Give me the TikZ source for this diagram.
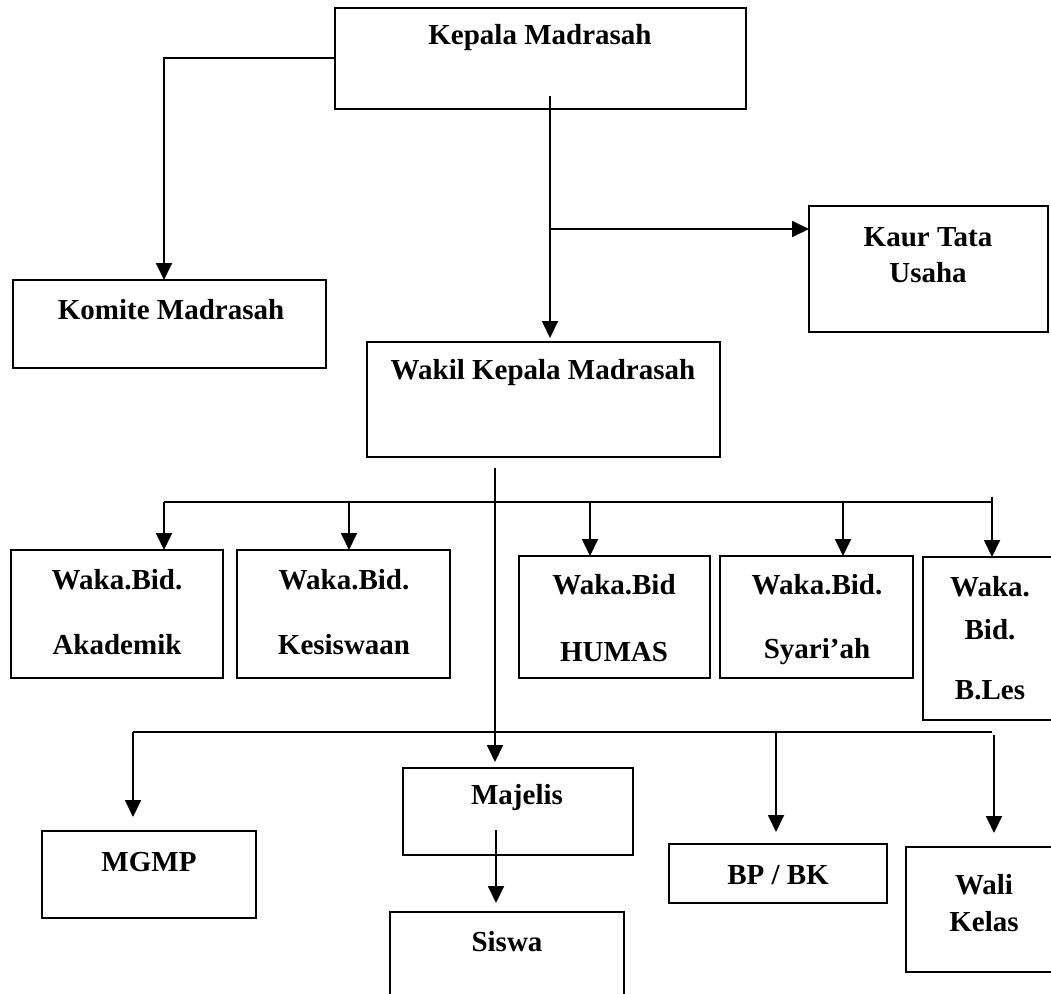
\documentclass[tikz,border=0pt]{standalone}
\usepackage{fontspec}
\setmainfont{Liberation Serif}
\usetikzlibrary{arrows.meta}
\begin{document}
\begin{tikzpicture}[x=1pt,y=-1pt,
  box/.style={draw,line width=1.8pt,inner sep=0pt,outer sep=0pt},
  lbl/.style={font=\fontsize{29}{34}\selectfont\bfseries,inner sep=0pt,anchor=center},
  ln/.style={line width=1.8pt},
  arr/.style={line width=1.8pt,-{Triangle[width=16pt,length=17pt]}}]
\useasboundingbox (0,0) rectangle (1051,993);
\clip (0,0) rectangle (1051,993);
% boxes
\node[box,minimum width=411pt,minimum height=101pt] (kepala) at (540.5,58.5) {};
\node[box,minimum width=313pt,minimum height=88pt] (komite) at (169.5,324) {};
\node[box,minimum width=239pt,minimum height=126pt] (kaur) at (928.5,269) {};
\node[box,minimum width=353pt,minimum height=115pt] (wakil) at (543.5,399.5) {};
\node[box,minimum width=212pt,minimum height=128pt] (akad) at (117,614) {};
\node[box,minimum width=213pt,minimum height=128pt] (kesis) at (343.5,614) {};
\node[box,minimum width=191pt,minimum height=122pt] (humas) at (614.5,617) {};
\node[box,minimum width=193pt,minimum height=122pt] (syariah) at (816.5,617) {};
\node[box,minimum width=147pt,minimum height=163pt] (bles) at (996.5,638.5) {};
\node[box,minimum width=214pt,minimum height=87pt] (mgmp) at (149,874.5) {};
\node[box,minimum width=230pt,minimum height=87pt] (majelis) at (518,811.5) {};
\node[box,minimum width=234pt,minimum height=98pt] (siswa) at (507,961) {};
\node[box,minimum width=218pt,minimum height=59pt] (bpbk) at (778,873.5) {};
\node[box,minimum width=164pt,minimum height=125pt] (wali) at (988,909.5) {};
% labels
\node[lbl] (tkepala) at (540,38) {Kepala Madrasah};
\node[lbl] (tkomite) at (171,310) {Komite Madrasah};
\node[lbl] (tkaur1) at (928,237) {Kaur Tata};
\node[lbl] (tkaur2) at (928,273) {Usaha};
\node[lbl] (twakil) at (543,373) {Wakil Kepala Madrasah};
\node[lbl] (takad1) at (117,580) {Waka.Bid.};
\node[lbl] (takad2) at (117,645) {Akademik};
\node[lbl] (tkesis1) at (344,580) {Waka.Bid.};
\node[lbl] (tkesis2) at (344,645) {Kesiswaan};
\node[lbl] (thumas1) at (614,585) {Waka.Bid};
\node[lbl] (thumas2) at (614,652) {HUMAS};
\node[lbl] (tsyar1) at (817,585) {Waka.Bid.};
\node[lbl] (tsyar2) at (817,652) {Syari’ah};
\node[lbl] (tbles1) at (990,587) {Waka.};
\node[lbl] (tbles2) at (990,630) {Bid.};
\node[lbl] (tbles3) at (990,690) {B.Les};
\node[lbl] (tmgmp) at (149,862) {MGMP};
\node[lbl] (tmajelis) at (517,798) {Majelis};
\node[lbl] (tsiswa) at (507,942) {Siswa};
\node[lbl] (tbpbk) at (778,875) {BP / BK};
\node[lbl] (twali1) at (984,885) {Wali};
\node[lbl] (twali2) at (984,922) {Kelas};
% coordinates
\coordinate (komiteIn) at (164,280);
\coordinate (kStart) at (550,96);
\coordinate (kJoin) at (550,229);
\coordinate (wakilIn) at (550,338);
\coordinate (wStart) at (495,468);
\coordinate (b1L) at (164,502);
\coordinate (b1R) at (992,502);
\coordinate (b1Top) at (992,497);
\coordinate (b2L) at (133,732);
\coordinate (b2R) at (992,732);
\coordinate (mjStart) at (496,830);
% connectors
\draw[arr] (kepala.west |- 0,58) -| (komiteIn);
\draw[arr] (kStart) -- (wakilIn);
\draw[arr] (kJoin) -- (kaur.west |- kJoin);
\draw[arr] (wStart) -- (495,762);
\draw[ln] (b1L) -- (b1R);
\draw[arr] (b1L) -- (akad.north -| b1L);
\draw[arr] (349,502) -- (349,550);
\draw[arr] (590,502) -- (590,556);
\draw[arr] (843,502) -- (843,556);
\draw[arr] (b1Top) -- (992,557);
\draw[ln] (b2L) -- (b2R);
\draw[arr] (b2L) -- (133,817);
\draw[arr] (776,732) -- (776,832);
\draw[arr] (994,735) -- (994,833);
\draw[arr] (mjStart) -- (496,903);
\end{tikzpicture}
\end{document}
